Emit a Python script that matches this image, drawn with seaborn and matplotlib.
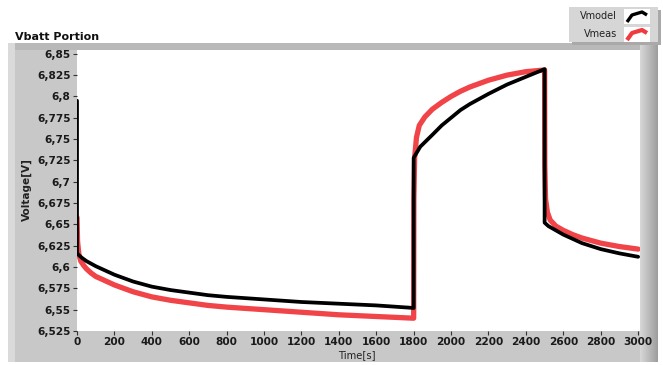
import numpy as np
import pandas as pd
import matplotlib
matplotlib.use("Agg")
import matplotlib.pyplot as plt
from matplotlib.patches import Rectangle
from matplotlib.lines import Line2D
from matplotlib.ticker import FuncFormatter
import seaborn as sns

# Modelled battery voltage (s, V)
t_model = [0, 0, 25, 50, 100, 150, 200, 250, 300, 400, 500, 600, 700, 800, 1000, 1200, 1400, 1600, 1800,
           1800, 1835, 1900, 1950, 2000, 2050, 2100, 2200, 2300, 2400, 2500,
           2500, 2520, 2560, 2600, 2650, 2700, 2800, 2900, 3000]
v_model = [6.795, 6.616, 6.611, 6.607, 6.601, 6.596, 6.591, 6.587, 6.583, 6.577, 6.573, 6.570, 6.567, 6.565, 6.562, 6.559, 6.557, 6.555, 6.552,
           6.728, 6.741, 6.755, 6.766, 6.775, 6.784, 6.791, 6.803, 6.814, 6.823, 6.832,
           6.652, 6.648, 6.643, 6.638, 6.633, 6.628, 6.621, 6.616, 6.612]

# Measured battery voltage (s, V)
t_meas = [0, 3, 10, 20, 35, 50, 75, 100, 150, 200, 250, 300, 400, 500, 600, 700, 800, 1000, 1200, 1400, 1600, 1800,
          1801, 1805, 1815, 1830, 1860, 1900, 1950, 2000, 2050, 2100, 2200, 2300, 2400, 2500,
          2501, 2505, 2515, 2530, 2560, 2600, 2650, 2700, 2800, 2900, 3000]
v_meas = [6.658, 6.630, 6.615, 6.607, 6.602, 6.598, 6.593, 6.589, 6.584, 6.579, 6.575, 6.571, 6.565, 6.561, 6.558, 6.555, 6.553, 6.550, 6.547, 6.544, 6.542, 6.540,
          6.680, 6.728, 6.752, 6.766, 6.776, 6.785, 6.793, 6.800, 6.806, 6.811, 6.819, 6.825, 6.829, 6.831,
          6.720, 6.680, 6.664, 6.655, 6.648, 6.643, 6.638, 6.634, 6.628, 6.624, 6.621]

y_ticks = [6.525, 6.55, 6.575, 6.6, 6.625, 6.65, 6.675, 6.7, 6.725, 6.75, 6.775, 6.8, 6.825, 6.85]
x_ticks = list(range(0, 3001, 200))

series_names = ["Vmodel", "Vmeas"]
series_colors = {"Vmodel": "#000000", "Vmeas": "#f03a3e"}

df_model = pd.DataFrame({"Time": t_model, "Voltage": v_model})
df_meas = pd.DataFrame({"Time": t_meas, "Voltage": v_meas})

sns.set_style("white")
plt.rcParams["font.family"] = ["DejaVu Sans"]

W, H = 663, 365
fig = plt.figure(figsize=(W / 100, H / 100), dpi=100)
fig.patch.set_facecolor("white")


def fx(px):
    return px / W


def fy(py):
    return 1 - py / H


def frect(x0, y0, x1, y1, color, z=0):
    fig.patches.append(Rectangle((fx(x0), fy(y1)), fx(x1) - fx(x0), fy(y0) - fy(y1),
                                 transform=fig.transFigure, facecolor=color,
                                 edgecolor="none", zorder=z))


# Graph frame (behind the axes)
frect(8, 43, 658, 362, "#c8c8c8", z=-3)
frect(8, 43, 15, 362, "#dadada", z=-2.9)
frect(15, 43, 640, 50, "#b9b9b9", z=-2.9)
grad = np.linspace(0, 1, 18)
for i, g in enumerate(grad):
    c = 0.84 - 0.22 * g
    frect(640 + i, 43, 641 + i, 362, (c, c, c), z=-2.8)

ax = fig.add_axes([fx(77), fy(331), fx(640) - fx(77), fy(49.5) - fy(331)])
ax.set_zorder(0)
ax.set_facecolor("white")

sns.lineplot(data=df_meas, x="Time", y="Voltage", ax=ax, sort=False, estimator=None,
             color=series_colors["Vmeas"], linewidth=3.8, alpha=0.95,
             solid_joinstyle="round")
sns.lineplot(data=df_model, x="Time", y="Voltage", ax=ax, sort=False, estimator=None,
             color=series_colors["Vmodel"], linewidth=2.7, solid_joinstyle="round")

ax.set_xlim(0, 3010)
ax.set_ylim(6.525, 6.855)
ax.set_xticks(x_ticks)
ax.set_yticks(y_ticks)


def comma_fmt(v, pos):
    s = f"{v:.3f}".rstrip("0").rstrip(".")
    return s.replace(".", ",")


ax.yaxis.set_major_formatter(FuncFormatter(comma_fmt))
ax.xaxis.set_major_formatter(FuncFormatter(lambda v, p: f"{int(v)}"))
ax.tick_params(axis="both", which="major", direction="out", length=3, width=0.8,
               color="#333333", labelsize=7.6, labelcolor="#1a1a1a", pad=1.5,
               bottom=True, left=True)
for lab in ax.get_xticklabels() + ax.get_yticklabels():
    lab.set_fontweight("bold")
for side in ["top", "right", "bottom", "left"]:
    ax.spines[side].set_visible(False)

ax.set_xlabel("")
ax.set_ylabel("")
fig.text(fx(357), fy(355), "Time[s]", ha="center", va="center", fontsize=7.2, color="#222222")
fig.text(fx(27), fy(190), "Voltage[V]", ha="center", va="center", rotation=90,
         fontsize=7.6, fontweight="bold", color="#222222")

# Title
fig.text(fx(15), fy(36.5), "Vbatt Portion", ha="left", va="center", fontsize=8,
         fontweight="bold", color="#111111")

# Legend panel
frect(572, 10, 661, 45, "#a9a9a9", z=1)
frect(569, 7, 658, 42, "#d6d6d6", z=1.1)
for i, name in enumerate(series_names):
    yc = 16 + i * 18
    fig.text(fx(617), fy(yc), name, ha="right", va="center", fontsize=7, color="#222222", zorder=2)
    frect(624, yc - 7, 650, yc + 8, "white", z=1.5)
    xs = [fx(627), fx(632), fx(642), fx(647)]
    ys = [fy(yc + 6), fy(yc - 1), fy(yc - 4), fy(yc - 1)]
    fig.lines.append(Line2D(xs, ys, transform=fig.transFigure, color=series_colors[name],
                            linewidth=3 if name == "Vmeas" else 2.4, zorder=2,
                            solid_capstyle="butt", solid_joinstyle="round"))

fig.savefig("out.png", dpi=100, facecolor="white")
